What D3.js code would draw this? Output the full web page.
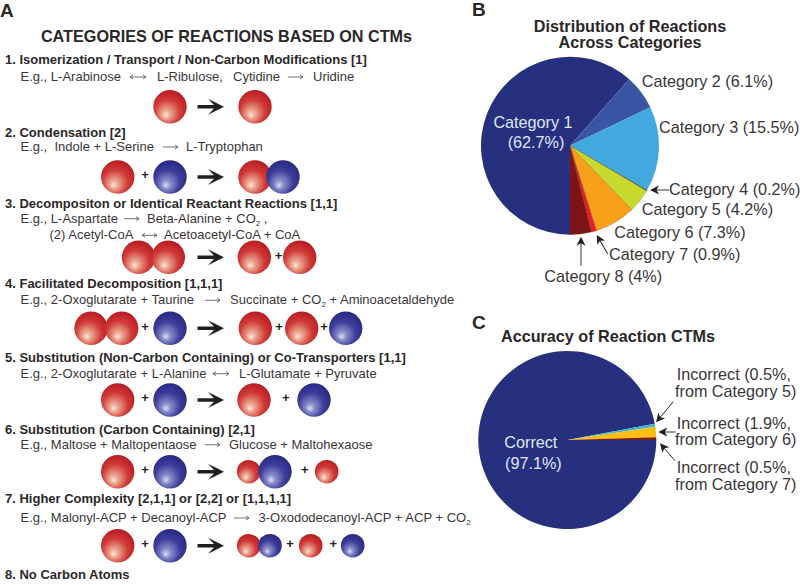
<!DOCTYPE html>
<html><head><meta charset="utf-8">
<script src="https://cdn.jsdelivr.net/npm/d3@7"></script>
<style>html,body{margin:0;background:#fff}svg{display:block;font-family:"Liberation Sans",Arial,sans-serif}</style>
</head><body><svg id="c" width="800" height="585"></svg>
<script>
// ---------- data ----------
const catNames = ["Category 1","Category 2","Category 3","Category 4","Category 5","Category 6","Category 7","Category 8"];
const catLabels = ["62.7%","6.1%","15.5%","0.2%","4.2%","7.3%","0.9%","4%"];
const catShares = [61.6,6.3,15.4,0.2,4.3,7.4,0.9,3.9];
const catColors = ["#27307f","#3a55a4","#41a9e0","#3c6b3a","#c8d92f","#f9a01b","#ed1c24","#7f1416"];
const accNames = ["Correct","Incorrect 5","Incorrect 6","Incorrect 7"];
const accShares = [97.1,0.5,1.9,0.5];
const accColors = ["#27307f","#3fb3d6","#fdc010","#7f1d0d"];
const headings = [
 "1. Isomerization / Transport / Non-Carbon Modifications [1]",
 "2. Condensation [2]",
 "3. Decompositon or Identical Reactant Reactions [1,1]",
 "4. Facilitated Decomposition [1,1,1]",
 "5. Substitution (Non-Carbon Containing) or Co-Transporters [1,1]",
 "6. Substitution (Carbon Containing) [2,1]",
 "7. Higher Complexity [2,1,1] or [2,2] or [1,1,1,1]",
 "8. No Carbon Atoms"];

// ---------- layout (diagram, not data) ----------
const svg = d3.select("#c");
const defs = svg.append("defs");
function grad(id, stops){
  const g = defs.append("radialGradient").attr("id",id)
    .attr("cx",.46).attr("cy",.6).attr("r",.66).attr("fx",.37).attr("fy",.76);
  stops.forEach(s=>g.append("stop").attr("offset",s[0]).attr("stop-color",s[1]));
}
grad("red",[[0,"#fbe6d8"],[.2,"#eba48e"],[.58,"#d03a38"],[.85,"#bf2226"],[1,"#a01c20"]]);
grad("blue",[[0,"#dcdef2"],[.2,"#8a8dca"],[.58,"#3b3d98"],[.85,"#2c2e8a"],[1,"#232576"]]);

const ink = "#2b2728";
const headY = [64,137,207.7,288,362,434,502.7,579];
const rowY = [106.7,177,257.3,328.3,400,471.7,545.7];

// example lines: [x, baseline, text] ; arrows: [x0,x1,baseline,double]
const exLines = [
 [[20.5,81,"E.g., L-Arabinose"],[157,81,"L-Ribulose,"],[233,81,"Cytidine"],[313,81,"Uridine"]],
 [[20.5,151,"E.g.,"],[54.5,151,"Indole + L-Serine"],[186,151,"L-Tryptophan"]],
 [[20.5,222.7,"E.g., L-Aspartate"],[147,222.7,"Beta-Alanine + CO|2| ,"],[49.5,239.3,"(2) Acetyl-CoA"],[164,239.3,"Acetoacetyl-CoA + CoA"]],
 [[20.5,304.3,"E.g., 2-Oxoglutarate + Taurine"],[230,304.3,"Succinate + CO|2| + Aminoacetaldehyde"]],
 [[20.5,377.7,"E.g., 2-Oxoglutarate + L-Alanine"],[239,377.7,"L-Glutamate + Pyruvate"]],
 [[20.5,448.7,"E.g., Maltose + Maltopentaose"],[229,448.7,"Glucose + Maltohexaose"]],
 [[20.5,522,"E.g., Malonyl-ACP + Decanoyl-ACP"],[258.5,522,"3-Oxododecanoyl-ACP + ACP + CO|2|"]]
];
const thinArrows = [
 [130,146,81,1],[288,303,81,0],[163,178,151,0],
 [124,139,222.7,0],[142,157,239.3,1],[205,220,304.3,0],[213,229,377.7,1],[205,220,448.7,0],[234,249,522,0]
];
// glyphs: [kind, x, radius]
const R=16.7, S=11.8;
const rows = [
 [["r",170,R],["r",255,R]],
 [["r",117.7,R],["+",145],["b",170,R],["r",255,R],["b",283,R]],
 [["r",138.5,R],["r",168.3,R],["r",254.3,R],["+",278.5],["r",299.7,R]],
 [["r",91,R],["r",121.7,R],["+",145],["b",170,R],["r",255.3,R],["+",279],["r",301.7,R],["+",324],["b",345.7,R]],
 [["r",117.7,R],["+",145],["b",170,R],["r",254,R],["+",285.7],["b",314,R]],
 [["r",117.7,R],["+",145],["b",170,R],["r",248.7,S],["b",275,R],["+",304.7],["r",326.7,S]],
 [["r",117.7,R],["+",145],["b",170,R],["r",248.7,S],["b",270,S],["+",290],["r",310.7,S],["+",333.3],["b",352.7,S]]
];

// ---------- panel A ----------
const txt = (g,x,y,s,size,weight,anchor,fill)=>g.append("text").attr("x",x).attr("y",y)
  .attr("font-size",size).attr("font-weight",weight||"normal").attr("text-anchor",anchor||"start")
  .attr("fill",fill||ink).text(s);

const A = svg.append("g");
txt(svg,0,16.7,"A",19,"bold");
txt(svg,472,16.3,"B",19,"bold");
txt(svg,472,329,"C",19,"bold");
txt(A,226.5,42,"CATEGORIES OF REACTIONS BASED ON CTMs",16.2,"bold","middle");
headings.forEach((h,i)=>txt(A,5,headY[i],h,13,"bold"));

exLines.flat().forEach(([x,y,s])=>{
  const t = A.append("text").attr("x",x).attr("y",y).attr("font-size",13).attr("fill","#3a3637");
  s.split("|").forEach((p,i)=>{
    const sp = t.append("tspan").text(p);
    if(i===1) sp.attr("font-size",8).attr("dy",3);
    if(i===2) sp.attr("dy",-3);
  });
});
thinArrows.forEach(([x0,x1,b,dbl])=>{
  const y=b-4;
  const g=A.append("g").attr("fill","none").attr("stroke","#3a3637").attr("stroke-width",.7);
  g.append("path").attr("d",`M${x0} ${y}H${x1}M${x1-3} ${y-2}L${x1} ${y}L${x1-3} ${y+2}`);
  if(dbl) g.append("path").attr("d",`M${x0+3} ${y-2}L${x0} ${y}L${x0+3} ${y+2}`);
});
rows.forEach((row,i)=>{
  const y=rowY[i], g=A.append("g");
  // big reaction arrow
  g.append("path").attr("fill","#231f20")
   .attr("d",`M197.5 ${y-1.7}H214L208 ${y-8}L224 ${y}L208 ${y+8}L214 ${y+1.7}H197.5Z`);
  row.forEach(([k,x,r])=>{
    if(k==="+") txt(g,x,y-1,"+",13,"bold","middle","#231f20").attr("dominant-baseline","middle");
    else g.append("circle").attr("cx",x).attr("cy",y).attr("r",r).attr("fill",`url(#${k==="r"?"red":"blue"})`);
  });
});

// ---------- pies ----------
const arcB = d3.arc().innerRadius(0).outerRadius(89);
const pieB = d3.pie().sort(null).value(d=>d)
  .startAngle(Math.PI).endAngle(3*Math.PI);
const gB = svg.append("g").attr("transform","translate(570,145.7)");
gB.selectAll("path").data(pieB(catShares)).join("path")
  .attr("d",arcB).attr("fill",(d,i)=>catColors[i])
  .attr("stroke",(d,i)=>i<3?"none":"#5a4a20").attr("stroke-width",.25);

const pieC = d3.pie().sort(null).value(d=>d)
  .startAngle(Math.PI/2).endAngle(2.5*Math.PI);
const gC = svg.append("g").attr("transform","translate(567.3,440)");
gC.selectAll("path").data(pieC(accShares)).join("path")
  .attr("d",arcB).attr("fill",(d,i)=>accColors[i]);

// ---------- titles and labels ----------
const T = svg.append("g");
const LS = 16.2;
txt(T,630,31.7,"Distribution of Reactions",LS,"bold","middle");
txt(T,630,47.7,"Across Categories",LS,"bold","middle");
txt(T,608,342.3,"Accuracy of Reaction CTMs",LS,"bold","middle");

const lab = i=>`${catNames[i]} (${catLabels[i]})`;
const catPos = [null,[641.7,87.3],[659,132.7],[669,195],[641.7,215],[614.3,237.7],[609,260],[544.3,282.3]];
catPos.forEach((p,i)=>{ if(p) txt(T,p[0],p[1],lab(i),LS,"normal","start","#3a3637"); });
txt(T,533,128.3,catNames[0],LS,"normal","middle","#dfe6f5");
txt(T,536,148.3,`(${catLabels[0]})`,LS,"normal","middle","#dfe6f5");

const accLabels = [
 [676.7,380.3,`Incorrect (${accShares[1]}%,`],[675,396.7,"from Category 5)"],
 [676.7,429,`Incorrect (${accShares[2]}%,`],[675,445,"from Category 6)"],
 [676.7,473.3,`Incorrect (${accShares[3]}%,`],[675,490,"from Category 7)"]];
accLabels.forEach(p=>txt(T,p[0],p[1],p[2],LS,"normal","start","#3a3637"));
txt(T,504.3,448.3,accNames[0],LS,"normal","start","#dfe6f5");
txt(T,505,469.3,`(${accShares[0]}%)`,LS,"normal","start","#dfe6f5");

// callout arrows: tail -> tip
const callouts = [
 [669,190,650,190],[607.7,254,596.7,235],[581,265.7,581,236.7],
 [673.3,401.7,656,422.3],[675.7,432,658.3,432],[675,460.7,660,443.3]];
callouts.forEach(([x0,y0,x1,y1])=>{
  const a=Math.atan2(y1-y0,x1-x0)*180/Math.PI, L=Math.hypot(x1-x0,y1-y0);
  const g=T.append("g").attr("transform",`translate(${x1},${y1}) rotate(${a})`);
  g.append("line").attr("x1",-L).attr("x2",-5).attr("stroke","#231f20").attr("stroke-width",.9);
  g.append("path").attr("d","M0 0L-9 -4.5L-6.5 0L-9 4.5Z").attr("fill","#231f20");
});
</script></body></html>
